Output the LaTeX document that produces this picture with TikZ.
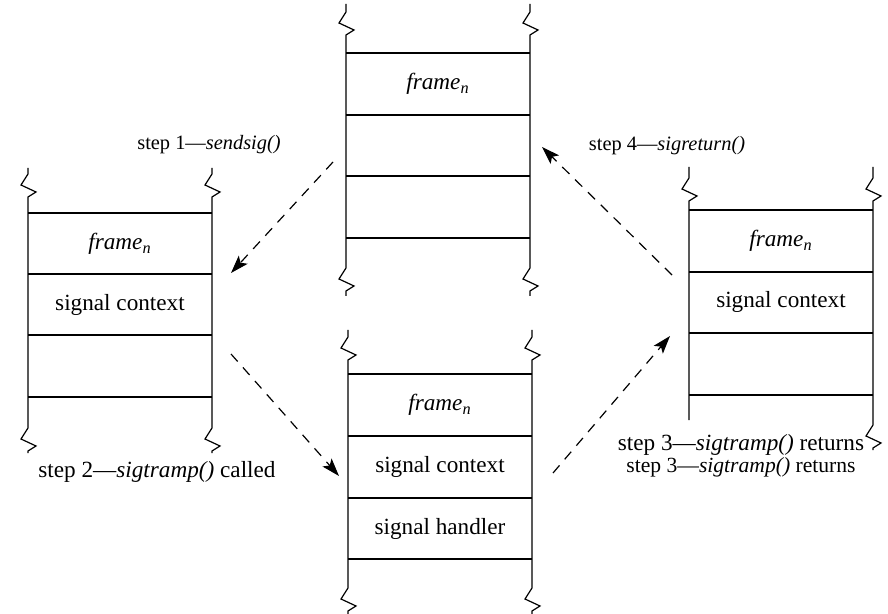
\documentclass[tikz,border=0pt]{standalone}
\usepackage{fontspec}
\setmainfont{Liberation Serif}
\usetikzlibrary{arrows.meta}

\tikzset{
  flow/.style={dash pattern=on 5pt off 4pt, -{Stealth[length=9pt,width=6pt,inset=2pt]}},
  cell/.style={font=\fontsize{11.6}{13}\selectfont},
  steplbl/.style={anchor=base, font=\fontsize{11.6}{13}\selectfont},
  narrowlbl/.style={anchor=base, font=\fontsize{10.2}{12}\selectfont},
}

% rail broken at top and bottom: x, top, zig1, zig2, bottom
\newcommand{\brokenrail}[5]{%
  \draw (#1,#2) -- (#1,#3) -- ++(-7,11) -- ++(15,7) -- ++(-8,5)
    -- (#1,#4) -- ++(-7,11) -- ++(15,7) -- ++(-8,5) -- (#1,#5);}

\begin{document}
\begin{tikzpicture}[x=0.5pt, y=-0.5pt, line width=0.6pt]
\useasboundingbox (0,0) rectangle (888,614);

% top stack
\brokenrail{346}{4}{12}{268}{296}
\brokenrail{530}{4}{12}{268}{296}
\foreach \y in {53,115,176,238} \draw (346,\y) -- (530,\y);
\node[cell] (topframe) at (438,84) {\textit{frame\textsubscript{n}}};

% left stack
\brokenrail{28}{168}{174}{428}{453}
\brokenrail{212}{168}{174}{428}{453}
\foreach \y in {213,274,335,397} \draw (28,\y) -- (212,\y);
\node[cell] (leftframe) at (120,244) {\textit{frame\textsubscript{n}}};
\node[cell] (leftctx)   at (120,305) {signal context};

% bottom stack
\brokenrail{348}{330}{337}{588}{614}
\brokenrail{532}{330}{337}{588}{614}
\foreach \y in {374,436,498,559} \draw (348,\y) -- (532,\y);
\node[cell] (botframe) at (440,405) {\textit{frame\textsubscript{n}}};
\node[cell] (botctx)   at (440,467) {signal context};
\node[cell] (bothdl)   at (440,529) {signal handler};

% right stack
\draw (689,167) -- (689,178) -- ++(-7,11) -- ++(15,7) -- ++(-8,5) -- (689,420);
\brokenrail{873}{167}{178}{425}{450}
\foreach \y in {210,272,333,395} \draw (689,\y) -- (873,\y);
\node[cell] (rightframe) at (781,241) {\textit{frame\textsubscript{n}}};
\node[cell] (rightctx)   at (781,302) {signal context};

% step labels
\node[narrowlbl] (step1)  at (209,150) {step 1---\textit{sendsig()}};
\node[steplbl]   (step2)  at (157,477) {step 2---\textit{sigtramp()} called};
\node[narrowlbl] (step4)  at (667,151) {step 4---\textit{sigreturn()}};
\node[steplbl]   (step3a) at (741,450) {step 3---\textit{sigtramp()} returns};
\node[anchor=base, font=\fontsize{10.8}{12}\selectfont] (step3b) at (741,472) {step 3---\textit{sigtramp()} returns};

% arrow ends
\coordinate (s1tail) at (333,162);
\coordinate (s1tip)  at (231,273);
\coordinate (s2tail) at (231,354);
\coordinate (s2tip)  at (339,476);
\coordinate (s3tail) at (553,473);
\coordinate (s3tip)  at (670,336);
\coordinate (s4tail) at (672,275);
\coordinate (s4tip)  at (542,147);

\draw[flow] (s1tail) -- (s1tip);
\draw[flow] (s2tail) -- (s2tip);
\draw[flow] (s3tail) -- (s3tip);
\draw[flow] (s4tail) -- (s4tip);

\end{tikzpicture}
\end{document}
